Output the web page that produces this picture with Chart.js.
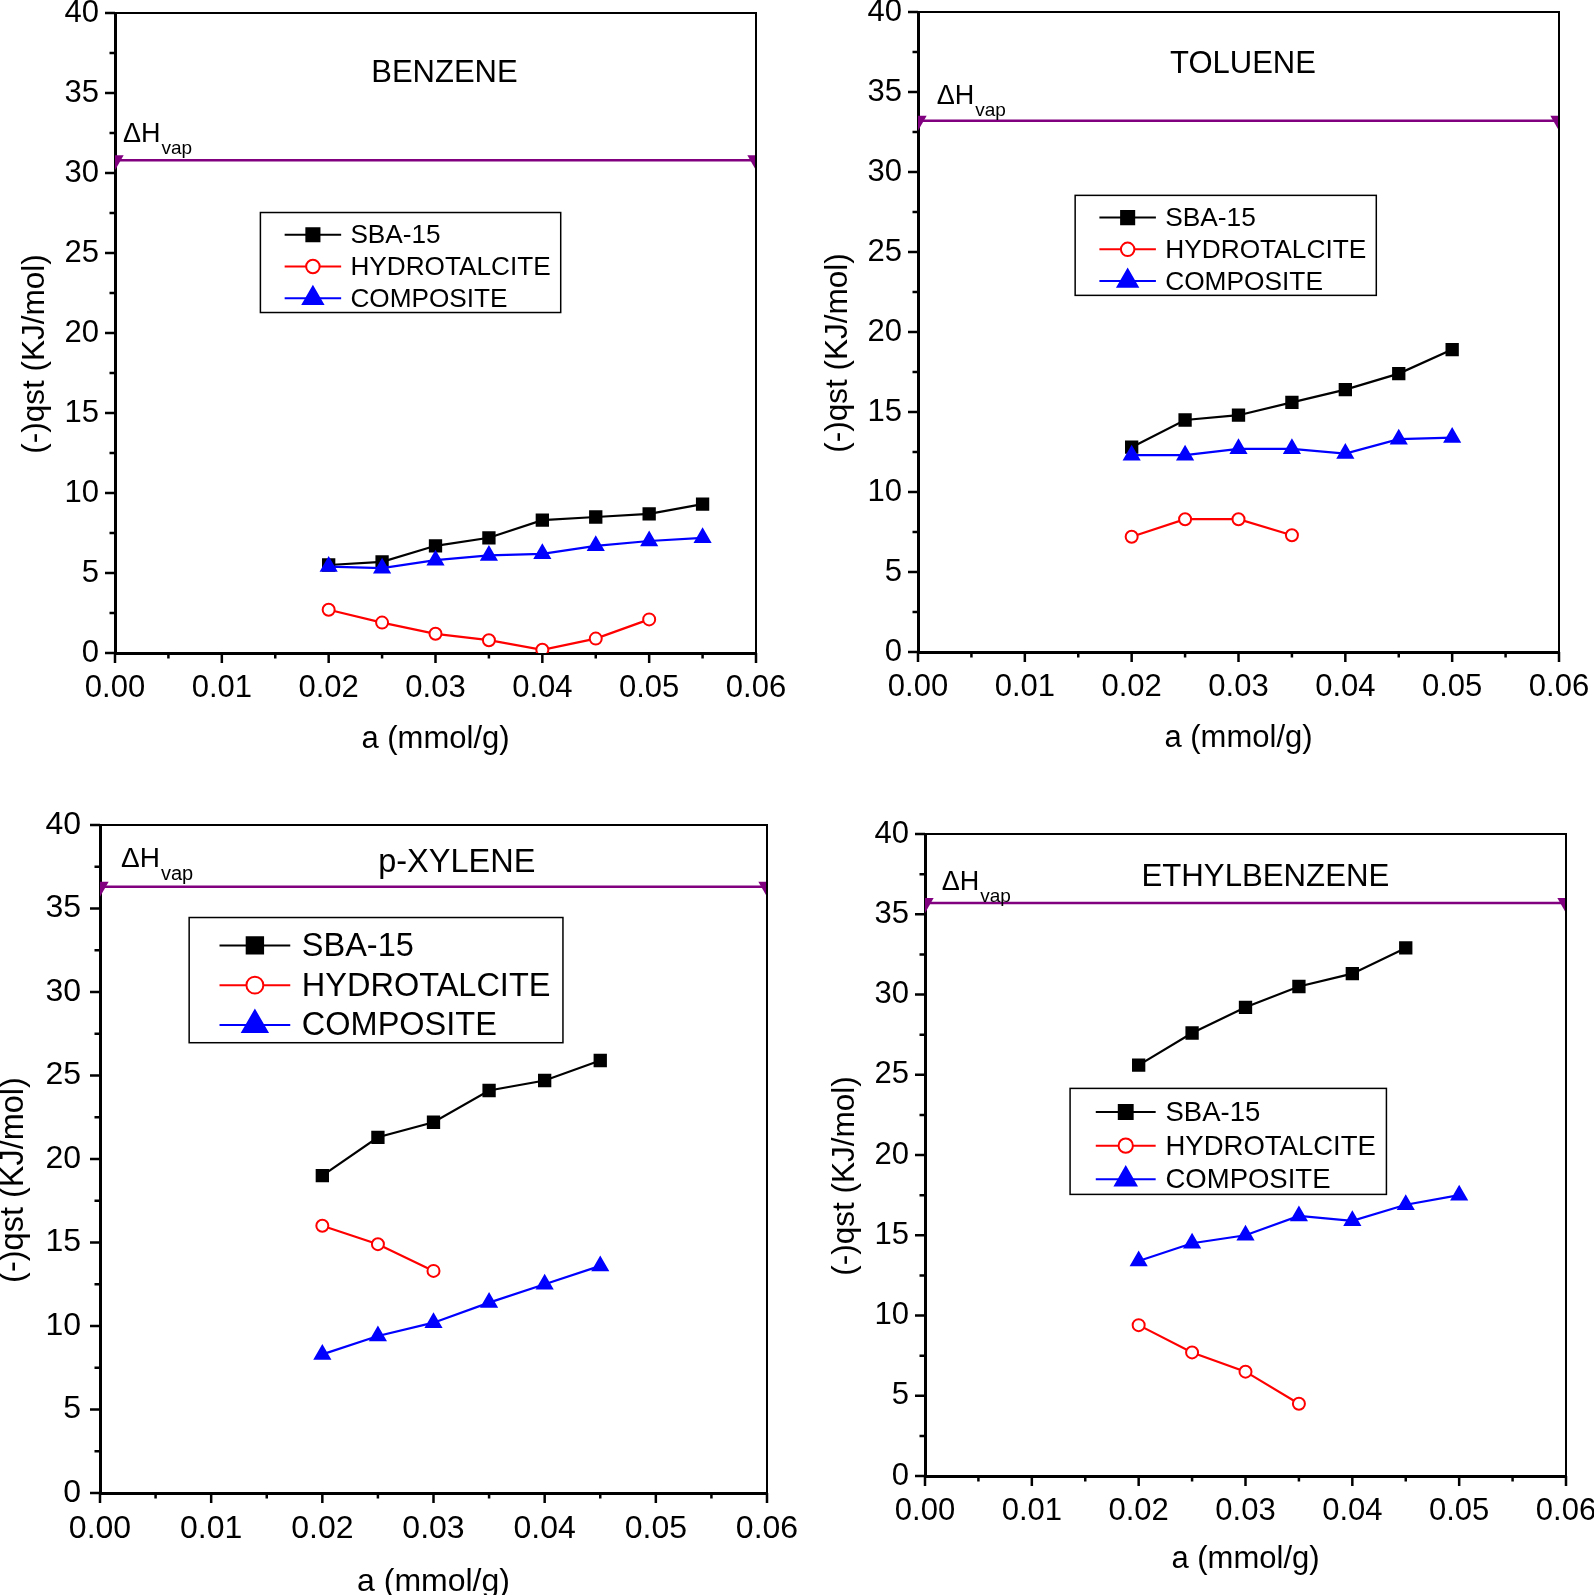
<!DOCTYPE html>
<html>
<head>
    <title>Isosteric heat of adsorption</title>
    <script src="https://cdn.jsdelivr.net/npm/chart.js"></script>
    <style>
        body { margin: 0; background: #fff; width: 1594px; height: 1595px; overflow: hidden; position: relative; }
        .panel { position: absolute; }
        .panel canvas { display: block; }
    </style>
</head>
<body>
    <div class="panel" id="wrap-benzene"><canvas id="benzene"></canvas></div>
    <div class="panel" id="wrap-toluene"><canvas id="toluene"></canvas></div>
    <div class="panel" id="wrap-xylene"><canvas id="xylene"></canvas></div>
    <div class="panel" id="wrap-ethylbenzene"><canvas id="ethylbenzene"></canvas></div>

    <script>
        // ---- data ----
        const loadings = [0.02, 0.025, 0.03, 0.035, 0.04, 0.045, 0.05, 0.055]; // a (mmol/g)
        const xTicks = [0, 0.01, 0.02, 0.03, 0.04, 0.05, 0.06];
        const yTicks = [0, 5, 10, 15, 20, 25, 30, 35, 40];
        const seriesNames = ['SBA-15', 'HYDROTALCITE', 'COMPOSITE'];
        const panelTitles = ['BENZENE', 'TOLUENE', 'p-XYLENE', 'ETHYLBENZENE'];

        const benzeneSBA  = [5.5, 5.7, 6.7, 7.2, 8.3, 8.5, 8.7, 9.3];
        const benzeneHT   = [2.7, 1.9, 1.2, 0.8, 0.2, 0.9, 2.1];
        const benzeneComp = [5.4, 5.3, 5.8, 6.1, 6.2, 6.7, 7.0, 7.2];

        const tolueneSBA  = [12.8, 14.5, 14.8, 15.6, 16.4, 17.4, 18.9];
        const tolueneHT   = [7.2, 8.3, 8.3, 7.3];
        const tolueneComp = [12.3, 12.3, 12.7, 12.7, 12.4, 13.3, 13.4];

        const xyleneSBA  = [19.0, 21.3, 22.2, 24.1, 24.7, 25.9];
        const xyleneHT   = [16.0, 14.9, 13.3];
        const xyleneComp = [8.3, 9.4, 10.2, 11.4, 12.5, 13.6];

        const ethylSBA  = [25.6, 27.6, 29.2, 30.5, 31.3, 32.9];
        const ethylHT   = [9.4, 7.7, 6.5, 4.5];
        const ethylComp = [13.4, 14.5, 15.0, 16.2, 15.9, 16.9, 17.5];

        // heat of vaporisation reference lines
        const hvapValues = [30.8, 33.2, 36.3, 35.7];

        const sbaSeries  = [benzeneSBA, tolueneSBA, xyleneSBA, ethylSBA];
        const htSeries   = [benzeneHT, tolueneHT, xyleneHT, ethylHT];
        const compSeries = [benzeneComp, tolueneComp, xyleneComp, ethylComp];

        // ---- layout of the four panels (page pixels) ----
        const panels = [
            { id: 'benzene', canvas: { left: 0, top: -40, width: 830, height: 800 },
              plot: { left: 115, top: 13, right: 756, bottom: 653 },
              font: 31, yTitleFont: 31.5, titleFont: 31, xTitleGap: 86.5, yTitleGap: 79.5, tickPad: 16,
              titleAt: [0.03084, 36.36], hvapAt: [0.00075, 31.96], subDrop: 12, hvapFont: 27,
              legendAt: [0.01361, 27.53], legendUnit: 25, legendFont: 26.2 },
            { id: 'toluene', canvas: { left: 797, top: -40, width: 850, height: 800 },
              plot: { left: 918, top: 12, right: 1559, bottom: 652 },
              font: 31, yTitleFont: 31.5, titleFont: 31, xTitleGap: 86.4, yTitleGap: 80, tickPad: 16,
              titleAt: [0.03042, 36.87], hvapAt: [0.00175, 34.25], subDrop: 12, hvapFont: 27,
              legendAt: [0.01471, 28.54], legendUnit: 25, legendFont: 26.3 },
            { id: 'xylene', canvas: { left: 0, top: 760, width: 840, height: 900 },
              plot: { left: 100, top: 825, right: 767, bottom: 1493 },
              font: 32, yTitleFont: 32.5, titleFont: 32.5, xTitleGap: 88.7, yTitleGap: 86, tickPad: 19,
              titleAt: [0.03209, 37.87], hvapAt: [0.00189, 37.49], subDrop: 13, hvapFont: 28,
              legendAt: [0.00802, 34.46], legendUnit: 31.3, legendFont: 32.5 },
            { id: 'ethylbenzene', canvas: { left: 805, top: 760, width: 850, height: 900 },
              plot: { left: 925, top: 834, right: 1566, bottom: 1476 },
              font: 31, yTitleFont: 31.5, titleFont: 31.2, xTitleGap: 83, yTitleGap: 80, tickPad: 16,
              titleAt: [0.03186, 37.46], hvapAt: [0.00156, 36.54], subDrop: 12, hvapFont: 27,
              legendAt: [0.01358, 24.15], legendUnit: 26.5, legendFont: 27.5 }
        ];

        const FONT = '"Liberation Sans", Arial, Helvetica, sans-serif';
        Chart.defaults.font.family = FONT;
        Chart.defaults.color = '#000';

        const styles = [
            { color: '#000000', fill: '#000000', pointStyle: 'rect', radius: 8, order: 2 },
            { color: '#ff0000', fill: '#ffffff', pointStyle: 'circle', radius: 6, order: 1 },
            { color: '#0000ff', fill: '#0000ff', pointStyle: 'triangle', radius: 8.5, order: 0 }
        ];
        const legendMarker = { rect: 0.37, circle: 0.27, triangle: 0.46 };

        function toPoints(values) {
            return values.map((v, i) => ({ x: loadings[i], y: v }));
        }

        function seriesDataset(values, s) {
            const st = styles[s];
            return {
                label: seriesNames[s],
                data: toPoints(values),
                borderColor: st.color,
                backgroundColor: st.fill,
                borderWidth: 2.2,
                pointStyle: st.pointStyle,
                pointRadius: st.radius,
                pointBorderWidth: 2,
                pointBorderColor: st.color,
                pointBackgroundColor: st.fill,
                order: st.order,
                tension: 0
            };
        }

        function drawMarker(ctx, st, x, y, r) {
            ctx.fillStyle = st.fill;
            ctx.strokeStyle = st.color;
            ctx.lineWidth = 2;
            Chart.helpers.drawPoint(ctx, { pointStyle: st.pointStyle, rotation: 0, radius: r, borderWidth: 2 }, x, y);
        }

        function makeDecor(p, k) {
            return {
                id: 'decor',
                afterDraw(chart) {
                    const { ctx, chartArea: a } = chart;
                    const xs = chart.scales.x, ys = chart.scales.y;
                    ctx.save();

                    // top and right frame
                    ctx.strokeStyle = '#000';
                    ctx.lineWidth = 2;
                    ctx.beginPath();
                    ctx.moveTo(a.left, a.top);
                    ctx.lineTo(a.right, a.top);
                    ctx.lineTo(a.right, a.bottom + 1);
                    ctx.stroke();

                    // outward major + minor ticks on left and bottom axes
                    ctx.lineWidth = 2.5;
                    ctx.beginPath();
                    yTicks.forEach((v, i) => {
                        const py = ys.getPixelForValue(v);
                        ctx.moveTo(a.left, py); ctx.lineTo(a.left - 10, py);
                        if (i < yTicks.length - 1) {
                            const my = ys.getPixelForValue((v + yTicks[i + 1]) / 2);
                            ctx.moveTo(a.left, my); ctx.lineTo(a.left - 5.5, my);
                        }
                    });
                    xTicks.forEach((v, i) => {
                        const px = xs.getPixelForValue(v);
                        ctx.moveTo(px, a.bottom); ctx.lineTo(px, a.bottom + 10);
                        if (i < xTicks.length - 1) {
                            const mx = xs.getPixelForValue((v + xTicks[i + 1]) / 2);
                            ctx.moveTo(mx, a.bottom); ctx.lineTo(mx, a.bottom + 5.5);
                        }
                    });
                    ctx.stroke();

                    // y axis title
                    ctx.fillStyle = '#000';
                    ctx.save();
                    ctx.translate(a.left - p.yTitleGap, (a.top + a.bottom) / 2 + 21);
                    ctx.rotate(-Math.PI / 2);
                    ctx.font = p.yTitleFont + 'px ' + FONT;
                    ctx.textAlign = 'center';
                    ctx.textBaseline = 'middle';
                    ctx.fillText('(-)qst (KJ/mol)', 0, 0);
                    ctx.restore();

                    // panel title
                    ctx.font = p.titleFont + 'px ' + FONT;
                    ctx.textAlign = 'center';
                    ctx.textBaseline = 'middle';
                    ctx.fillText(panelTitles[k], xs.getPixelForValue(p.titleAt[0]), ys.getPixelForValue(p.titleAt[1]) + 2.5);

                    // ΔHvap label
                    const hx = xs.getPixelForValue(p.hvapAt[0]);
                    const hy = ys.getPixelForValue(p.hvapAt[1]);
                    ctx.textAlign = 'left';
                    ctx.textBaseline = 'alphabetic';
                    ctx.font = p.hvapFont + 'px ' + FONT;
                    ctx.fillText('\u0394H', hx, hy);
                    const w = ctx.measureText('\u0394H').width;
                    ctx.font = Math.round(p.hvapFont * 0.7) + 'px ' + FONT;
                    ctx.fillText('vap', hx + w + 1, hy + p.subDrop);

                    // legend box
                    const u = p.legendUnit;
                    const lx = xs.getPixelForValue(p.legendAt[0]);
                    const ly = ys.getPixelForValue(p.legendAt[1]);
                    ctx.font = p.legendFont + 'px ' + FONT;
                    const tw = Math.max(...seriesNames.map(n => ctx.measureText(n).width));
                    const bw = 3.6 * u + tw + 0.4 * u;
                    const bh = 4.0 * u;
                    ctx.fillStyle = '#fff';
                    ctx.fillRect(lx, ly, bw, bh);
                    ctx.strokeStyle = '#000';
                    ctx.lineWidth = 1.5;
                    ctx.strokeRect(lx, ly, bw, bh);
                    seriesNames.forEach((name, row) => {
                        const st = styles[row];
                        const cy = ly + 0.89 * u + row * 1.27 * u;
                        ctx.strokeStyle = st.color;
                        ctx.lineWidth = 2;
                        ctx.beginPath();
                        ctx.moveTo(lx + 0.97 * u, cy);
                        ctx.lineTo(lx + 3.23 * u, cy);
                        ctx.stroke();
                        drawMarker(ctx, st, lx + 2.1 * u, cy, legendMarker[st.pointStyle] * u);
                        ctx.fillStyle = '#000';
                        ctx.font = p.legendFont + 'px ' + FONT;
                        ctx.textAlign = 'left';
                        ctx.textBaseline = 'middle';
                        ctx.fillText(name, lx + 3.6 * u, cy + 1.5);
                    });

                    ctx.restore();
                }
            };
        }

        panels.forEach((p, k) => {
            const wrap = document.getElementById('wrap-' + p.id);
            wrap.style.left = p.canvas.left + 'px';
            wrap.style.top = p.canvas.top + 'px';
            const el = document.getElementById(p.id);
            el.width = p.canvas.width;
            el.height = p.canvas.height;

            const lh = p.font * 1.2;
            const xHeight = p.xTitleGap + lh / 2;
            const yWidth = p.plot.left - p.canvas.left;
            const padding = {
                left: 0,
                top: p.plot.top - p.canvas.top,
                right: p.canvas.left + p.canvas.width - p.plot.right,
                bottom: p.canvas.top + p.canvas.height - p.plot.bottom - xHeight
            };

            const hv = hvapValues[k];
            new Chart(el, {
                type: 'line',
                data: {
                    datasets: [
                        seriesDataset(sbaSeries[k], 0),
                        seriesDataset(htSeries[k], 1),
                        seriesDataset(compSeries[k], 2),
                        {
                            label: 'hvap',
                            data: [{ x: xTicks[0], y: hv }, { x: xTicks[xTicks.length - 1], y: hv }],
                            borderColor: '#800080',
                            backgroundColor: '#800080',
                            borderWidth: 2.5,
                            pointStyle: 'triangle',
                            rotation: 180,
                            pointRadius: 10,
                            pointBorderWidth: 0,
                            order: 3,
                            clip: 0
                        }
                    ]
                },
                options: {
                    responsive: false,
                    animation: false,
                    events: [],
                    layout: { padding: padding },
                    plugins: { legend: { display: false }, tooltip: { enabled: false } },
                    scales: {
                        x: {
                            type: 'linear',
                            min: xTicks[0],
                            max: xTicks[xTicks.length - 1],
                            afterBuildTicks: s => { s.ticks = xTicks.map(v => ({ value: v })); },
                            afterFit: s => { s.height = xHeight; },
                            grid: { display: false, drawTicks: false },
                            border: { display: true, width: 3, color: '#000' },
                            ticks: {
                                font: { size: p.font },
                                padding: 17,
                                maxRotation: 0,
                                autoSkip: false,
                                callback: v => Number(v).toFixed(2)
                            },
                            title: {
                                display: true,
                                text: 'a (mmol/g)',
                                font: { size: p.font },
                                padding: 0
                            }
                        },
                        y: {
                            type: 'linear',
                            min: yTicks[0],
                            max: yTicks[yTicks.length - 1],
                            afterBuildTicks: s => { s.ticks = yTicks.map(v => ({ value: v })); },
                            afterFit: s => { s.width = yWidth; },
                            grid: { display: false, drawTicks: false },
                            border: { display: true, width: 3, color: '#000' },
                            ticks: { font: { size: p.font }, padding: p.tickPad }
                        }
                    }
                },
                plugins: [makeDecor(p, k)]
            });
        });
    </script>
</body>
</html>
